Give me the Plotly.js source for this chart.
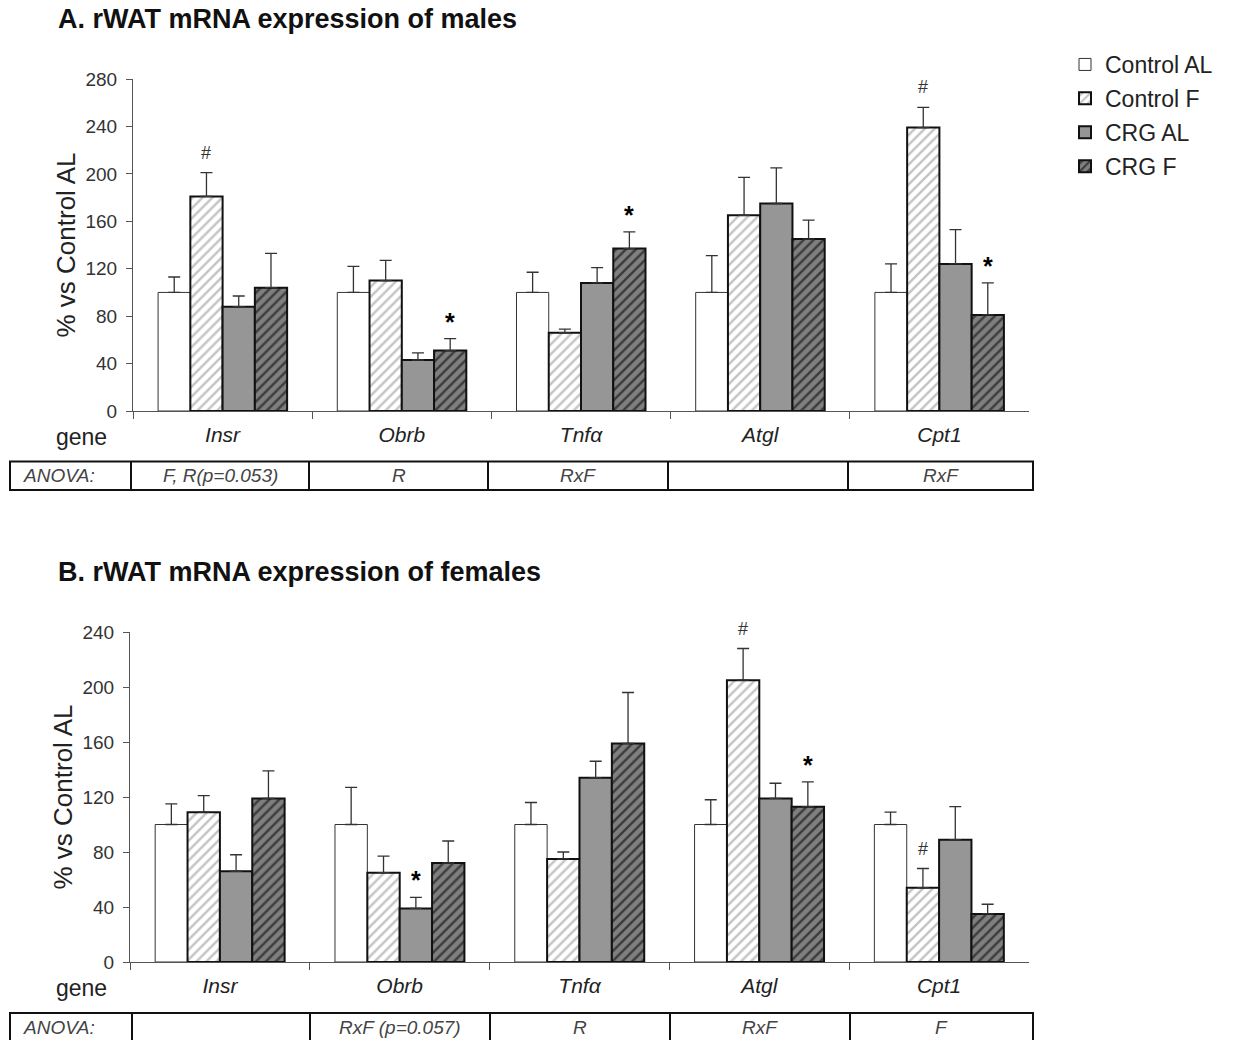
<!DOCTYPE html>
<html>
<head>
<meta charset="utf-8">
<script src="https://cdn.plot.ly/plotly-3.0.1.min.js"></script>
<style>html,body{margin:0;padding:0;background:#fff}#chart{width:1236px;height:1040px}</style>
</head>
<body>
<div id="chart"></div>
<script>
// ---------------- data ----------------
const genes = ['Insr', 'Obrb', 'Tnfα', 'Atgl', 'Cpt1'];
const seriesNames = ['Control AL', 'Control F', 'CRG AL', 'CRG F'];

// A. males
const malesControlAL    = [100, 100, 100, 100, 100];
const malesControlALErr = [13, 22, 17, 31, 24];
const malesControlF     = [181, 110, 66, 165, 239];
const malesControlFErr  = [20, 17, 3, 32, 17];
const malesCrgAL        = [88, 43, 108, 175, 124];
const malesCrgALErr     = [9, 6, 13, 30, 29];
const malesCrgF         = [104, 51, 137, 145, 81];
const malesCrgFErr      = [29, 10, 14, 16, 27];
// significance marks: [symbol, gene index, series index]
const malesMarks = [['#', 0, 1], ['*', 1, 3], ['*', 2, 3], ['#', 4, 1], ['*', 4, 3]];
const malesAnova = ['F, R(p=0.053)', 'R', 'RxF', '', 'RxF'];
const malesYTicks = [0, 40, 80, 120, 160, 200, 240, 280];

// B. females
const femalesControlAL    = [100, 100, 100, 100, 100];
const femalesControlALErr = [15, 27, 16, 18, 9];
const femalesControlF     = [109, 65, 75, 205, 54];
const femalesControlFErr  = [12, 12, 5, 23, 14];
const femalesCrgAL        = [66, 39, 134, 119, 89];
const femalesCrgALErr     = [12, 8, 12, 11, 24];
const femalesCrgF         = [119, 72, 159, 113, 35];
const femalesCrgFErr      = [20, 16, 37, 18, 7];
const femalesMarks = [['*', 1, 2], ['#', 3, 1], ['*', 3, 3], ['#', 4, 1]];
const femalesAnova = ['', 'RxF (p=0.057)', 'R', 'RxF', 'F'];
const femalesYTicks = [0, 40, 80, 120, 160, 200, 240];

const anovaLabel = 'ANOVA:';

// ---------------- styling ----------------
const W = 1236, H = 1040;
const px = x => x / W;
const py = y => 1 - y / H;
const FONT = 'Arial, "Liberation Sans", sans-serif';
const BARGAP = 0.28;

const styles = [
  {color: '#ffffff', line: {color: '#333', width: 1}},
  {color: '#ffffff', line: {color: '#111', width: 2},
   pattern: {shape: '/', fgcolor: '#c4c4c4', bgcolor: '#ffffff', size: 7, solidity: 0.35}},
  {color: '#969696', line: {color: '#111', width: 2}},
  {color: '#7a7a7a', line: {color: '#111', width: 2},
   pattern: {shape: '/', fgcolor: '#3c3c3c', bgcolor: '#7f7f7f', size: 7, solidity: 0.35}}
];

function makeTraces(vals, errs, xa, ya, showLegend) {
  return vals.map((v, i) => ({
    type: 'bar', x: genes, y: v, name: seriesNames[i],
    xaxis: xa, yaxis: ya, showlegend: showLegend, legendgroup: 'g' + i,
    marker: styles[i],
    error_y: {type: 'data', symmetric: false, array: errs[i], arrayminus: errs[i].map(() => 0),
              color: '#333', thickness: 1.3, width: 6},
    hoverinfo: 'x+y+name'
  }));
}

const traces = [
  ...makeTraces([malesControlAL, malesControlF, malesCrgAL, malesCrgF],
                [malesControlALErr, malesControlFErr, malesCrgALErr, malesCrgFErr], 'x', 'y', true),
  ...makeTraces([femalesControlAL, femalesControlF, femalesCrgAL, femalesCrgF],
                [femalesControlALErr, femalesControlFErr, femalesCrgALErr, femalesCrgFErr], 'x2', 'y2', false)
];

const annotations = [];
const shapes = [];

function markAnnots(marks, vals, errs, xref, yref) {
  const bw = (1 - BARGAP) / 4;
  marks.forEach(([sym, g, s]) => {
    annotations.push({
      xref: xref, yref: yref, x: g + (s - 1.5) * bw, y: vals[s][g] + errs[s][g],
      xanchor: 'center', text: sym, showarrow: false, yanchor: 'bottom', yshift: sym === '*' ? 1 : 8,
      font: sym === '*' ? {family: FONT, size: 25, color: '#000', weight: 'bold'}
                        : {family: FONT, size: 18, color: '#333'}
    });
  });
}
markAnnots(malesMarks, [malesControlAL, malesControlF, malesCrgAL, malesCrgF],
           [malesControlALErr, malesControlFErr, malesCrgALErr, malesCrgFErr], 'x', 'y');
markAnnots(femalesMarks, [femalesControlAL, femalesControlF, femalesCrgAL, femalesCrgF],
           [femalesControlALErr, femalesControlFErr, femalesCrgALErr, femalesCrgFErr], 'x2', 'y2');

// panel titles
annotations.push({xref: 'paper', yref: 'paper', x: px(56), y: py(19), xanchor: 'left', yanchor: 'middle',
  text: '<b>A. rWAT mRNA expression of males</b>', showarrow: false, font: {family: FONT, size: 27, color: '#111'}});
annotations.push({xref: 'paper', yref: 'paper', x: px(56), y: py(572), xanchor: 'left', yanchor: 'middle',
  text: '<b>B. rWAT mRNA expression of females</b>', showarrow: false, font: {family: FONT, size: 27, color: '#111'}});
// "gene" labels
[437, 988].forEach(y => annotations.push({xref: 'paper', yref: 'paper', x: px(81), y: py(y),
  xanchor: 'center', yanchor: 'middle',
  text: 'gene', showarrow: false, font: {family: FONT, size: 23, color: '#222'}}));

// ANOVA tables
function table(cols, top, bottom, texts) {
  shapes.push({type: 'rect', xref: 'paper', yref: 'paper', x0: px(cols[0]), x1: px(cols[cols.length - 1]),
    y0: py(top), y1: py(bottom), line: {color: '#111', width: 2}});
  for (let i = 1; i < cols.length - 1; i++) {
    shapes.push({type: 'line', xref: 'paper', yref: 'paper', x0: px(cols[i]), x1: px(cols[i]),
      y0: py(top), y1: py(bottom), line: {color: '#111', width: 2}});
  }
  const yc = top + 14.5;
  annotations.push({xref: 'paper', yref: 'paper', x: px(cols[0] + 11), y: py(yc), xanchor: 'left',
    yanchor: 'middle',
    text: anovaLabel, showarrow: false, font: {family: FONT, size: 19, color: '#444', style: 'italic'}});
  texts.forEach((t, i) => {
    if (!t) return;
    annotations.push({xref: 'paper', yref: 'paper', x: px((cols[i + 1] + cols[i + 2]) / 2), y: py(yc),
      xanchor: 'center', yanchor: 'middle',
      text: t, showarrow: false, font: {family: FONT, size: 19, color: '#444', style: 'italic'}});
  });
}
table([10, 131, 309, 488, 668, 848, 1033], 461.5, 490, malesAnova);
table([10, 132, 310, 490, 670, 850, 1033], 1013, 1045, femalesAnova);

const xCommon = {
  type: 'category', showline: true, linecolor: '#555', linewidth: 1,
  ticks: 'outside', tickson: 'boundaries', ticklen: 7, tickcolor: '#555',
  tickfont: {family: FONT, size: 21, color: '#222', style: 'italic'}, ticklabelstandoff: 5,
  showgrid: false, zeroline: false, fixedrange: true
};
const yCommon = {
  showline: true, linecolor: '#555', linewidth: 1, ticks: 'outside', ticklen: 6, tickcolor: '#555',
  tickfont: {family: FONT, size: 19, color: '#333'}, ticklabelstandoff: 5,
  showgrid: false, zeroline: false,
  title: {text: '% vs Control AL', font: {family: FONT, size: 26, color: '#222'}, standoff: 2}
};

const layout = {
  width: W, height: H, margin: {l: 0, r: 0, t: 0, b: 0},
  paper_bgcolor: '#fff', plot_bgcolor: '#fff',
  barmode: 'group', bargap: BARGAP, bargroupgap: 0,
  font: {family: FONT},
  xaxis: Object.assign({}, xCommon, {domain: [px(133), px(1029)], anchor: 'y'}),
  yaxis: Object.assign({}, yCommon, {domain: [py(411), py(79)], anchor: 'x', range: [0, 280],
    tickvals: malesYTicks}),
  xaxis2: Object.assign({}, xCommon, {domain: [px(130), px(1029)], anchor: 'y2'}),
  yaxis2: Object.assign({}, yCommon, {domain: [py(962), py(632)], anchor: 'x2', range: [0, 240],
    tickvals: femalesYTicks}),
  legend: {x: px(1065), y: py(43), xanchor: 'left', yanchor: 'top', traceorder: 'grouped',
    tracegroupgap: 1, font: {family: FONT, size: 23, color: '#222'}, bgcolor: 'rgba(0,0,0,0)'},
  annotations: annotations, shapes: shapes
};

Plotly.newPlot('chart', traces, layout, {displayModeBar: false, staticPlot: true});
</script>
</body>
</html>
